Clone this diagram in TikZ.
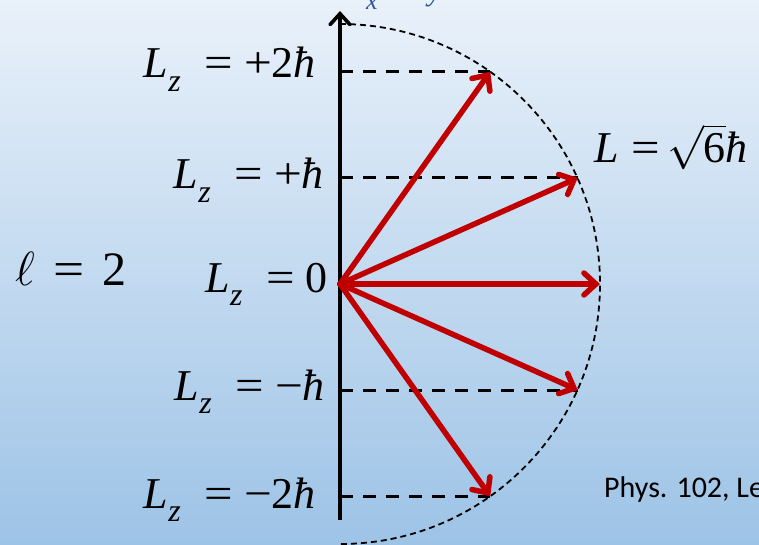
\RequirePackage{fix-cm}
\documentclass[tikz,border=0pt]{standalone}
\usepackage{graphicx}
\usepackage{fontspec}
\setmainfont{Liberation Serif}
\newfontfamily\sansf{Carlito}
\usetikzlibrary{arrows.meta}
\definecolor{bgtop}{RGB}{233,241,250}
\definecolor{bgbot}{RGB}{157,195,230}
\definecolor{vecred}{RGB}{192,0,0}
\definecolor{titleblue}{RGB}{47,85,151}
\newcommand\myeq{\scalebox{1.15}[1]{=}}
\newcommand\myplus{\scalebox{1.12}[1]{+}}
\newcommand\myminus{\scalebox{1.12}[1]{−}}
\newcommand\myLz{\textit{L}\raisebox{-0.3em}{\fontsize{32}{32}\selectfont\textit{z}}\hspace{0.55em}\myeq\hspace{0.24em}}
\newcommand\myhbar{\textit{ħ}}
\tikzset{
  axisline/.style={line width=3.6pt, -{Straight Barb[length=11pt,width=20pt,line cap=round]}},
  vec/.style={vecred, line width=5.5pt, line cap=round, -{Straight Barb[length=12pt,width=22pt,line cap=round]}},
  level/.style={line width=3pt, dash pattern=on 13pt off 10pt},
  arcdash/.style={line width=1.8pt, dash pattern=on 6pt off 4pt},
  lbl/.style={anchor=base east, inner sep=0pt, font=\fontsize{44}{46}\selectfont},
  lblw/.style={anchor=base west, inner sep=0pt, font=\fontsize{44}{46}\selectfont},
}
\begin{document}
\begin{tikzpicture}[x=1pt,y=-1pt]
\useasboundingbox (0,0) rectangle (759,545);
\shade[top color=bgtop, bottom color=bgbot] (0,0) rectangle (759,545);
% points
\coordinate (O) at (340,284);
\coordinate (axB) at (340,520);
\coordinate (axT) at (340,11);
\coordinate (a2) at (340,71.7);
\coordinate (a1) at (340,177.9);
\coordinate (am1) at (340,390.1);
\coordinate (am2) at (340,496.3);
\coordinate (p2) at (490.2,71.7);
\coordinate (p1) at (577.8,177.9);
\coordinate (p0) at (600,284);
\coordinate (pm1) at (577.8,390.1);
\coordinate (pm2) at (490.2,496.3);
\coordinate (arcT) at (340,24);
% dashed circle
\draw[arcdash] (arcT) arc[start angle=-90, end angle=90, radius=260];
% level lines
\draw[level] (a2) -- (p2);
\draw[level] (a1) -- (p1);
\draw[level] (am1) -- (pm1);
\draw[level] (am2) -- (pm2);
% axis
\draw[axisline] (axB) -- (axT);
% vectors
\draw[vec] (O) -- (p2);
\draw[vec] (O) -- (p1);
\draw[vec] (O) -- (p0);
\draw[vec] (O) -- (pm1);
\draw[vec] (O) -- (pm2);
% labels
\node[lbl] (l2) at (316,78) {\myLz\myplus2\myhbar};
\node[lbl] (l1) at (324,189) {\myLz\myplus\myhbar};
\node[lbl] (l0) at (328,292) {\myLz 0};
\node[lbl] (lm1) at (325,400) {\myLz\myminus\myhbar};
\node[lbl] (lm2) at (316,508) {\myLz\myminus2\myhbar};
\node[lblw] (Lt) at (594,163) {\textit{L}\hspace{0.3em}\myeq\hspace{0.15em}$\sqrt{\mbox{6}}$\myhbar};
\node[lblw, font=\fontsize{48}{50}\selectfont] (ell) at (15,285) {$\ell$\hspace{0.38em}\myeq\hspace{0.38em}2};
\node[anchor=base west, inner sep=0pt, font=\sansf\fontsize{30}{32}\selectfont] (ref) at (604,497) {Phys. 102, Le};
% clipped title fragments
\node[anchor=base west, inner sep=0pt, text=titleblue, font=\fontsize{26}{26}\selectfont] (tx) at (366,10) {\textit{x}};
\node[anchor=base west, inner sep=0pt, text=titleblue, font=\fontsize{30}{30}\selectfont] (ty) at (428,1) {\textit{y}};
\end{tikzpicture}
\end{document}
